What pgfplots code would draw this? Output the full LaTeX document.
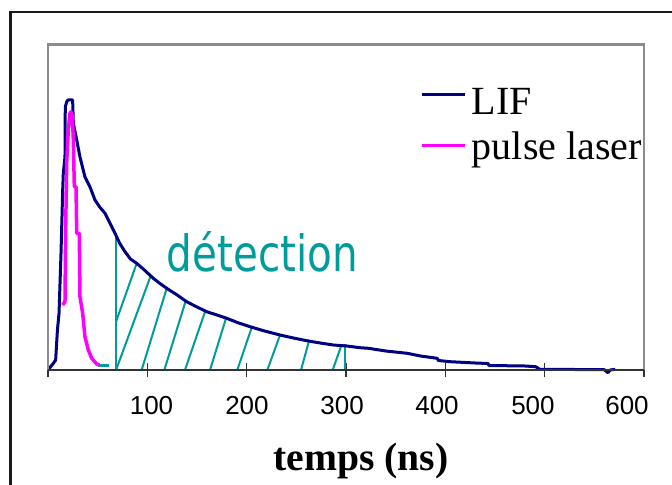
\documentclass[border=0pt]{standalone}
\usepackage{pgfplots}
\pgfplotsset{compat=1.18}
\usepackage{fontspec}
\setmainfont{Liberation Serif}
\newfontfamily\ticksfont{Liberation Sans}
\newfontfamily\detfont{DejaVu Sans}

\definecolor{lifblue}{RGB}{0,0,128}
\definecolor{pulsemag}{RGB}{255,0,255}
\definecolor{detteal}{RGB}{0,155,155}
\definecolor{framegray}{RGB}{140,140,140}

\begin{document}
\begin{tikzpicture}
\path[use as bounding box] (0,0) rectangle (672bp,485bp);

\begin{axis}[
  at={(48bp,115bp)}, anchor=south west,
  scale only axis, width=596bp, height=325.5bp,
  xmin=0, xmax=600, ymin=0, ymax=325.5,
  clip=false,
  axis line style={draw=none},
  ytick=\empty,
  xtick pos=lower,
  xtick={0,100,...,600}, xticklabels={},
  tick align=center,
  major tick length=14bp,
  every tick/.style={black!80, line width=1.3bp},
  extra x ticks={104.2,200.3,296,391.6,488.2,582.9},
  extra x tick labels={100,200,300,400,500,600},
  extra x tick style={major tick length=0pt,
    tick label style={anchor=base, yshift=-45bp, inner sep=0pt}},
  xticklabel style={font=\ticksfont\fontsize{26bp}{30bp}\selectfont},
  /pgf/number format/assume math mode=true,
]
% hatching of the detection window
\addplot[detteal, line width=2bp] coordinates {(68.5,0) (68.5,137)};
\addplot[detteal, line width=2bp] coordinates {(299,0) (299,25.5)};
\addplot[detteal, line width=2bp] coordinates {(68.5,48.3) (89.3,106.7)};
\addplot[detteal, line width=2bp] coordinates {(68.5,0) (103.7,95)};
\addplot[detteal, line width=2bp] coordinates {(94.3,0) (119.5,81.7)};
\addplot[detteal, line width=2bp] coordinates {(117.1,0) (138.9,70)};
\addplot[detteal, line width=2bp] coordinates {(137.9,0) (158.1,58.3)};
\addplot[detteal, line width=2bp] coordinates {(163.1,0) (179.2,51.7)};
\addplot[detteal, line width=2bp] coordinates {(190.6,0) (205.1,42.7)};
\addplot[detteal, line width=2bp] coordinates {(220.8,0) (233.6,35)};
\addplot[detteal, line width=2bp] coordinates {(254.7,0) (263,30)};
\addplot[detteal, line width=2bp] coordinates {(286.6,0) (295.7,25.7)};
\addplot[detteal, line width=2.5bp] coordinates {(50,4.3) (61,4.3)};

% LIF
\addplot[lifblue, line width=3bp, line join=round] coordinates {
(0,0) (5.4,6.7) (7.7,10) (9.5,40) (11.1,56.7) (13.1,116.7) (14.8,180)
(15.4,196.7) (17.1,213) (17.4,263) (18.8,268) (20,270) (24.8,270)
(25.5,246.7) (28.9,230) (32.2,213) (37.2,193) (42.3,183) (47.3,170)
(52,163) (57.4,156.7) (62.4,146.7) (67.5,136.7) (72,127) (77.5,118.3)
(83,111) (89.3,106.7) (97,100) (106,91.7) (112,87) (119.5,81.7)
(130,75) (139.6,68.3) (150,63) (159.8,58.3) (170,55) (179.9,51.7)
(192,47) (203.4,43.3) (218,39) (233.6,35) (247,32) (260.4,29.3)
(274,27) (287.2,25) (300.7,24) (314,22.3) (322.7,21.7) (340,19)
(361.6,16.7) (375,14) (391.8,11.7) (393,9.5) (404.7,8.3) (430,7)
(443,6.5) (444,4.5) (480,4) (491,3.3) (495,0.7) (530,0.5) (560,0.3)
(563.6,-2.7) (566,0) (571,0.7)};

% pulse laser
\addplot[pulsemag, line width=3.5bp, line join=round] coordinates {
(14.8,65) (17.1,68.3) (17.8,140) (18.8,206.7) (20.4,240) (22.1,256.7)
(23.1,258.3) (24.5,253.3) (25.5,230) (26.5,183.3) (28.2,183.3)
(28.9,136.7) (31.5,136.7) (32.2,73.3) (34.9,56.7) (37.2,33.3)
(40.6,20) (44,11.7) (49,6) (51.7,5)};

% plot frame
\draw[framegray, line width=2.5bp] (rel axis cs:0,0) -- (rel axis cs:0,1)
  -- (rel axis cs:1,1) -- (rel axis cs:1,0);
\draw[black!80, line width=2bp] (rel axis cs:0,0) -- (rel axis cs:1,0);
\end{axis}

% outer frame
\draw[black!90, line width=2.7bp] (10.5bp,-5bp) -- (10.5bp,473bp) -- (690bp,473bp);

% legend
\draw[lifblue, line width=3bp] (421.7bp,390bp) -- (465bp,390bp);
\node[anchor=base west, inner sep=0pt, font=\fontsize{40bp}{48bp}\selectfont]
  at (471.7bp,370bp) {LIF};
\draw[pulsemag, line width=3.5bp] (421.7bp,339.3bp) -- (465bp,339.3bp);
\node[anchor=base west, inner sep=0pt, font=\fontsize{40bp}{48bp}\selectfont]
  at (471.7bp,325bp) {pulse laser};

% detection label
\node[anchor=base west, inner sep=0pt, text=detteal,
  font=\detfont\fontsize{50bp}{56bp}\selectfont]
  at (166.7bp,213.3bp) {\scalebox{0.81}[1]{détection}};

% x axis title
\node[anchor=base, inner sep=0pt, font=\bfseries\fontsize{39.6bp}{46bp}\selectfont]
  at (361bp,15bp) {temps (ns)};
\end{tikzpicture}
\end{document}
